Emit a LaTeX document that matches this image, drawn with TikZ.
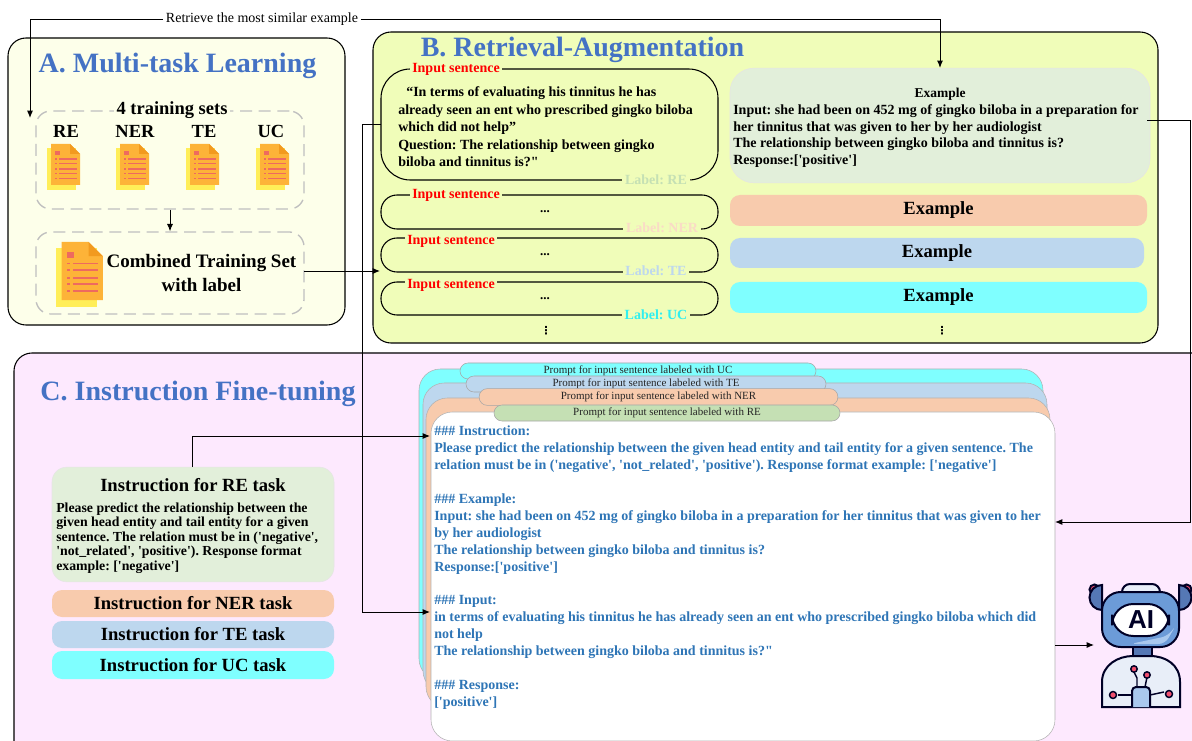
\documentclass[tikz,border=0pt]{standalone}
\usepackage{fontspec}
\setmainfont{Liberation Serif}[Ligatures=TeXOff]
\setsansfont{Liberation Sans}
\newfontfamily\dejavu{DejaVu Sans}
\usetikzlibrary{arrows.meta,calc}
\newcommand\pxf[2]{\fontsize{\dimexpr#1pt*3/4\relax}{\dimexpr#2pt*3/4\relax}\selectfont}
\frenchspacing
\definecolor{panelA}{HTML}{FDFFEA}
\definecolor{panelB}{HTML}{F0FDB9}
\definecolor{panelC}{HTML}{FDE9FE}
\definecolor{titleblue}{HTML}{4472C4}
\definecolor{promptblue}{HTML}{2E75B6}
\definecolor{cgreen}{HTML}{E2EFDA}
\definecolor{corange}{HTML}{F8CBAD}
\definecolor{cblue}{HTML}{BDD7EE}
\definecolor{ccyan}{HTML}{7FFFFF}
\definecolor{labcyan}{HTML}{2FEFEF}
\definecolor{tabgreen}{HTML}{C5E0B4}
\definecolor{dashgray}{HTML}{BFBFBF}
\definecolor{docback}{HTML}{FFEE58}
\definecolor{docfront}{HTML}{FDB338}
\definecolor{docfold}{HTML}{F29A1F}
\definecolor{docline}{HTML}{EE6A5F}
\definecolor{robotblue}{HTML}{6C9BD8}
\definecolor{robotdark}{HTML}{5578B5}
\definecolor{robotlight}{HTML}{A9C8EE}
\definecolor{robotbody}{HTML}{E8EEF8}
\definecolor{robotred}{HTML}{F0506E}
\tikzset{
  x=0.75pt,y=-0.75pt,
  panel/.style={draw=black,line width=0.8pt,rounded corners=13.5pt},
  dashbox/.style={draw=dashgray,line width=1pt,dash pattern=on 9pt off 5pt,rounded corners=11pt},
  inputbox/.style={draw=black,line width=0.8pt,fill=panelB},
  redlabel/.style={fill=panelB,text=red,font=\pxf{14}{15}\bfseries,inner sep=2pt},
  tasklabel/.style={fill=panelB,font=\pxf{14}{15}\bfseries,inner sep=2pt},
  pill/.style={draw=none,rounded corners=7.5pt,font=\pxf{18.6}{20}\bfseries},
  tab/.style={draw=gray!70,line width=0.4pt,rounded corners=6pt,font=\pxf{11}{12},text=black!85},
  card/.style={draw=gray!60,line width=0.4pt,rounded corners=16pt},
  settitle/.style={font=\pxf{18.5}{20}\bfseries},
  arr/.style={draw=black,line width=0.7pt,-{Latex[length=5.5pt,width=4.5pt]}},
  title/.style={text=titleblue,font=\pxf{28}{30}\bfseries}
}
\newcommand\docicon[3]{%
  \begin{scope}[shift={(#1,#2)},x=#3*0.75pt,y=-#3*0.75pt]
    \fill[docback] (0,4.5) rectangle (29,46);
    \fill[docfront] (4,0) -- (23,0) -- (33,10) -- (33,41) -- (4,41) -- cycle;
    \fill[docfold] (23,0) -- (33,10) -- (23,10) -- cycle;
    \fill[docline] (8,7) rectangle (12.5,11.5);
    \foreach \yy in {14.5,19,24.5,29,34}{
      \fill[docline] (8,\yy) rectangle (10,\yy+1.3);
      \fill[docline] (12,\yy) rectangle (29.5,\yy+1.3);
    }
  \end{scope}}
\begin{document}
\begin{tikzpicture}
\useasboundingbox (0,0) rectangle (1192,741);
\clip (0,0) rectangle (1192,741);
\fill[white] (0,0) rectangle (1192,741);

% panels
\draw[panel,fill=panelA] (8,38) rectangle (345,325);
\draw[panel,fill=panelB] (373,32) rectangle (1158,343);
\draw[panel,fill=panelC] (14,353) rectangle (1240,790);

% Panel A
\node[title,anchor=center] (ta) at (177.5,66) {A. Multi-task Learning};
\node[dashbox,minimum width=201pt,minimum height=73.5pt] (setsbox) at (170,160) {};
\node[dashbox,minimum width=201pt,minimum height=61.5pt] (combbox) at (170,273) {};
\node[settitle,fill=panelA,inner sep=2pt] (setstitle) at (172,110) {4 training sets};
\node[settitle] (lre) at (66,131) {RE};
\node[settitle] (lner) at (135,131) {NER};
\node[settitle] (lte) at (204,131) {TE};
\node[settitle] (luc) at (271,131) {UC};
\docicon{47}{144}{1}
\docicon{116}{144}{1}
\docicon{186}{144}{1}
\docicon{256}{144}{1}
\docicon{56}{242}{1.42}
\node[font=\pxf{19}{23.5}\bfseries,align=center] (combtext) at (201.5,273) {Combined Training Set\\with label};
\draw[arr] (setsbox.south) -- (combbox.north);

% Panel B
\node[title,anchor=center] (tb) at (582.5,50) {B. Retrieval-Augmentation};
\draw[inputbox,rounded corners=22pt] (381,69) rectangle (718,180);
\coordinate (inp1w) at (381,124);
\node[redlabel] (il1) at (456,69) {Input sentence};
\node[tasklabel,text=tabgreen] (ll1) at (656,180) {Label: RE};
\node[anchor=north west,align=left,inner sep=0pt,font=\pxf{14}{17.5}\bfseries] (inp1) at (398,86.5)
  {\hspace*{6pt}“In terms of evaluating his tinnitus he has\\already seen an ent who prescribed gingko biloba\\which did not help”\\Question: The relationship between gingko\\biloba and tinnitus is?"};
\draw[inputbox,rounded corners=12pt] (381,195) rectangle (718,229);
\node[redlabel] (il2) at (456,195.5) {Input sentence};
\node[tasklabel,text=corange!70] (ll2) at (662,228) {Label: NER};
\node[font=\pxf{13}{15}\bfseries] (d2) at (545,212) {...};
\draw[inputbox,rounded corners=12pt] (381,238) rectangle (718,272);
\node[redlabel] (il3) at (451,241) {Input sentence};
\node[tasklabel,text=cblue] (ll3) at (656,271) {Label: TE};
\node[font=\pxf{13}{15}\bfseries] (d3) at (545,255) {...};
\draw[inputbox,rounded corners=12pt] (381,282) rectangle (718,315);
\node[redlabel] (il4) at (451,285) {Input sentence};
\node[tasklabel,text=labcyan] (ll4) at (656,315) {Label: UC};
\node[font=\pxf{13}{15}\bfseries] (d4) at (545,299) {...};
\node[font=\dejavu\pxf{11}{13}\bfseries] (v1) at (546,331) {⋮};
\node[font=\dejavu\pxf{11}{13}\bfseries] (v2) at (942,331) {⋮};

% Examples
\node[fill=cgreen,draw=black!10,line width=0.4pt,rounded corners=18pt,minimum width=315pt,minimum height=86pt] (ex1) at (940,125.5) {};
\node[font=\pxf{13.5}{15}\bfseries] (ex1t) at (940,94) {Example};
\node[anchor=north west,align=left,inner sep=0pt,font=\pxf{14}{16.5}\bfseries] (ex1b) at (733,104.5)
  {Input: she had been on 452 mg of gingko biloba in a preparation for\\her tinnitus that was given to her by her audiologist\\The relationship between gingko biloba and tinnitus is?\\Response:{['positive']}};
\node[pill,fill=corange,minimum width=312.75pt,minimum height=23.25pt] (ex2) at (938.5,210.5) {\raisebox{-0.75pt}{Example}};
\node[pill,fill=cblue,minimum width=310.5pt,minimum height=22.5pt] (ex3) at (937,253) {\raisebox{-0.75pt}{Example}};
\node[pill,fill=ccyan,minimum width=312.75pt,minimum height=23.25pt] (ex4) at (938.5,297.5) {\raisebox{-0.75pt}{Example}};

% Panel C
\node[title,anchor=center] (tc) at (198,394) {C. Instruction Fine-tuning};
\draw[card,fill=ccyan] (419,369) rectangle (1043,680);
\draw[card,fill=cblue] (423,383) rectangle (1047,692);
\draw[card,fill=corange] (426,398) rectangle (1050,708);
\node[tab,fill=ccyan,minimum width=267pt,minimum height=12pt,inner sep=0pt] (tuc) at (638,371) {Prompt for input sentence labeled with UC};
\node[tab,fill=cblue,minimum width=270pt,minimum height=12pt,inner sep=0pt] (tte) at (646,384) {Prompt for input sentence labeled with TE};
\node[tab,fill=corange,minimum width=269pt,minimum height=12.5pt,inner sep=0pt] (tner) at (658.5,397) {Prompt for input sentence labeled with NER};
\draw[card,fill=white] (431,412) rectangle (1055,741);
\node[tab,fill=tabgreen,minimum width=259.5pt,minimum height=12pt,inner sep=0pt] (tre) at (667,413) {Prompt for input sentence labeled with RE};
\coordinate (wInstr) at (430,436);
\coordinate (wEx) at (1055,522);
\coordinate (wIn) at (430,612);
\coordinate (wOut) at (1055,645);
\node[anchor=north west,align=left,inner sep=0pt,text=promptblue,font=\pxf{14}{16.9}\bfseries] (prompt) at (434,426)
  {\#\#\# Instruction:\\
   Please predict the relationship between the given head entity and tail entity for a given sentence. The\\
   relation must be in ('negative', 'not\_related', 'positive'). Response format example: {['negative']}\\[12.67pt]
   \#\#\# Example:\\
   Input: she had been on 452 mg of gingko biloba in a preparation for her tinnitus that was given to her\\
   by her audiologist\\
   The relationship between gingko biloba and tinnitus is?\\
   Response:{['positive']}\\[12.67pt]
   \#\#\# Input:\\
   in terms of evaluating his tinnitus he has already seen an ent who prescribed gingko biloba which did\\
   not help\\
   The relationship between gingko biloba and tinnitus is?"\\[12.67pt]
   \#\#\# Response:\\
   {['positive']}};

% Instructions
\node[fill=cgreen,draw=black!10,line width=0.4pt,rounded corners=11pt,minimum width=211.5pt,minimum height=86pt] (ire) at (193,524.5) {};
\node[font=\pxf{18.6}{20}\bfseries] (iret) at (193,485) {Instruction for RE task};
\node[anchor=north west,align=left,inner sep=0pt,font=\pxf{13.8}{14.5}\bfseries] (ireb) at (56,502.5)
  {Please predict the relationship between the\\given head entity and tail entity for a given\\sentence. The relation must be in ('negative',\\'not\_related', 'positive'). Response format\\example: {['negative']}};
\node[pill,fill=corange,minimum width=211.5pt,minimum height=20.25pt] (iner) at (193,603.5) {Instruction for NER task};
\node[pill,fill=cblue,minimum width=211.5pt,minimum height=20.25pt] (ite) at (193,634.5) {Instruction for TE task};
\node[pill,fill=ccyan,minimum width=211.5pt,minimum height=21pt] (iuc) at (193,665) {Instruction for UC task};

% Robot
\begin{scope}[line width=1.5pt,draw=black!85!blue]
  \draw (1098,597) -- (1104,610);
  \draw (1183,597) -- (1177,610);
  \draw[fill=robotred] (1094.5,589.5) circle (5);
  \draw[fill=robotred] (1186.5,589.5) circle (5);
  \draw[fill=robotdark] (1102,610) arc (90:270:12.5) -- cycle;
  \draw[fill=robotdark] (1179,610) arc (90:-90:12.5) -- cycle;
  \draw[fill=robotbody,rounded corners=6pt] (1122,594) -- (1122,584) -- (1160,584) -- (1160,594);
  \draw[fill=robotblue,rounded corners=14pt] (1102,592) rectangle (1179,647);
  \fill[robotlight,rounded corners=5pt] (1130,644) -- (1165,644) -- (1176,625) -- (1168,636) -- cycle;
  \draw[fill=white,rounded corners=16pt] (1112,604) rectangle (1169,636);
  \node[font=\sffamily\bfseries\pxf{26}{28},text=black!85!blue,inner sep=0pt] (ai) at (1141,620) {AI};
  \draw[fill=robotdark] (1133,647) rectangle (1152,657);
  \draw[fill=robotbody] (1102,707) -- (1102,682) .. controls (1102,665) and (1118,656) .. (1133,656) -- (1150,656) .. controls (1166,656) and (1180,665) .. (1180,682) -- (1180,707) -- cycle;
  \draw[fill=robotlight,rounded corners=3pt] (1132,707) -- (1132,687) -- (1150,687) -- (1150,707);
  \begin{scope}[line width=1.1pt]
    \draw (1137,687) -- (1137,678) -- (1134,672);
    \draw (1145,687) -- (1147,677);
    \draw (1132,695) -- (1118,695);
    \draw (1150,695) -- (1164,692);
    \draw[fill=robotred] (1134,669) circle (3.2);
    \draw[fill=robotred] (1147,675) circle (3.2);
    \draw[fill=robotred] (1113,695) circle (3.5);
    \draw[fill=robotred] (1169,694) circle (3.5);
  \end{scope}
\end{scope}
\coordinate (robotin) at (1094,645);

% connectors
\node[font=\pxf{14}{15},inner sep=2pt,fill=white] (retr) at (262,19) {Retrieve the most similar example};
\coordinate (setsin) at (30,118);
\draw[arr] (retr.west) -| (setsin);
\draw[arr] (retr.east) -| (ex1.north);
\coordinate (inp2) at (380,271);
\coordinate (combout) at (304,271);
\draw[arr] (combout) -- (inp2);
\coordinate (j1) at (362,124);
\draw[arr] (inp1w) -- (j1) |- (wIn);
\coordinate (j2) at (1190,120);
\coordinate (exout) at (1147,120);
\draw[arr] (exout) -- (j2) |- (wEx);
\coordinate (iretop) at (192,467);
\draw[arr] (iretop) |- (wInstr);
\draw[arr] (wOut) -- (robotin);
\end{tikzpicture}
\end{document}
